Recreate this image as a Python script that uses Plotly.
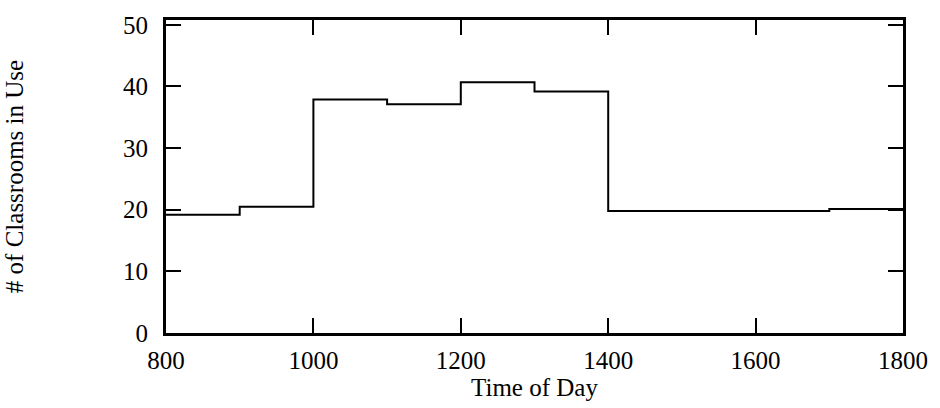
import plotly.graph_objects as go

# Step boundaries (time of day) and classroom counts for each interval
times = [800, 900, 1000, 1100, 1200, 1300, 1400, 1700, 1800]
classrooms = [19.2, 20.5, 37.9, 37.1, 40.7, 39.2, 19.8, 20.1]

x_ticks = [800, 1000, 1200, 1400, 1600, 1800]
y_ticks = [0, 10, 20, 30, 40, 50]

y_vals = classrooms + [classrooms[-1]]

font_family = "Liberation Serif, Times New Roman, serif"

fig = go.Figure(
    go.Scatter(
        x=times,
        y=y_vals,
        mode="lines",
        line=dict(shape="hv", color="black", width=2),
        showlegend=False,
        hoverinfo="skip",
    )
)

axis_common = dict(
    showline=True,
    linecolor="black",
    linewidth=3,
    mirror="ticks",
    ticks="inside",
    ticklen=15,
    tickwidth=2,
    tickcolor="black",
    showgrid=False,
    zeroline=False,
    ticklabeloverflow="allow",
    tickfont=dict(family=font_family, size=25, color="black"),
)

fig.update_layout(
    width=940,
    height=408,
    margin=dict(l=158, r=30, t=12, b=70),
    paper_bgcolor="white",
    plot_bgcolor="white",
    font=dict(family=font_family, size=25, color="black"),
    xaxis=dict(
        range=[800, 1800],
        tickvals=x_ticks,
        ticktext=[str(v) for v in x_ticks],
        ticklabelstandoff=3,
        title=dict(text="Time of Day", font=dict(family=font_family, size=25), standoff=4),
        **axis_common,
    ),
    yaxis=dict(
        range=[0, 50.78],
        tickvals=y_ticks,
        ticktext=[str(v) for v in y_ticks],
        ticklabelstandoff=10,
        title=dict(text="# of Classrooms in Use", font=dict(family=font_family, size=25), standoff=93),
        **axis_common,
    ),
)

fig.write_html(
    "out.html",
    config={"displayModeBar": False, "staticPlot": True},
    post_script="document.body.style.margin='0';",
)
